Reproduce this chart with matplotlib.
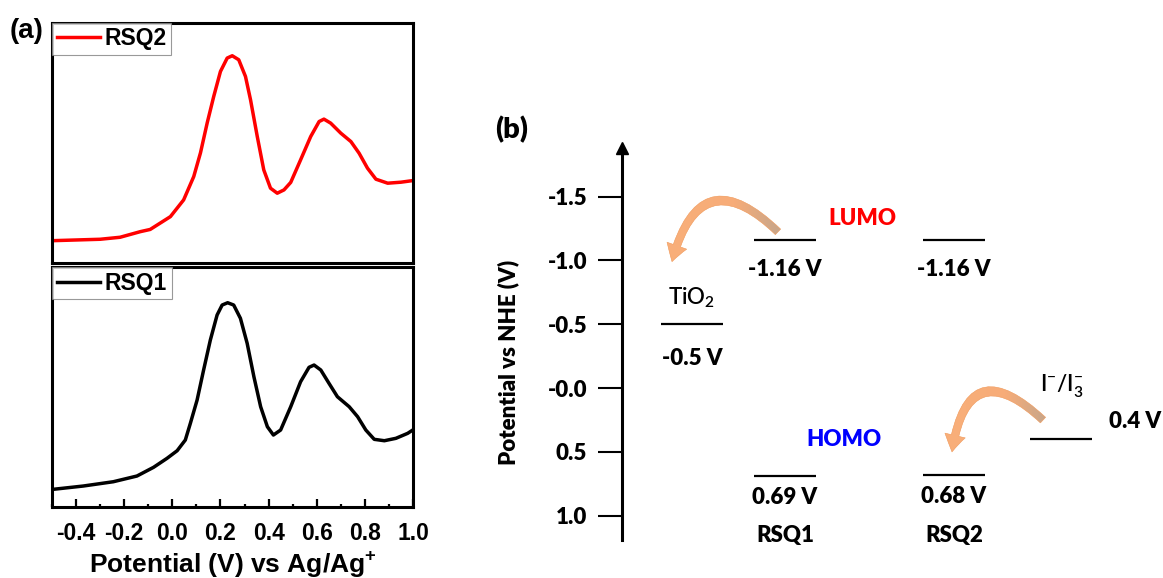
import matplotlib.pyplot as plt
import numpy as np
from matplotlib.colors import LinearSegmentedColormap
from matplotlib.patches import FancyArrowPatch
from matplotlib.ticker import MultipleLocator

plt.rcParams['axes.unicode_minus'] = False

# (a) CV traces: potential (V vs Ag/Ag+) and current (a.u.)
rsq2_v = [-0.496, -0.300, -0.217, -0.133, -0.092, -0.008, 0.047, 0.089, 0.117, 0.145,
          0.172, 0.200, 0.228, 0.249, 0.276, 0.304, 0.325, 0.353, 0.380, 0.408,
          0.436, 0.464, 0.492, 0.533, 0.575, 0.610, 0.630, 0.658, 0.700, 0.742,
          0.776, 0.811, 0.846, 0.895, 0.950, 0.999]
rsq2_i = [22.3, 23.7, 25.7, 31.3, 33.5, 46.3, 63.0, 86.3, 110.0, 140.0,
          166.3, 191.3, 204.7, 207.0, 203.0, 186.3, 163.0, 126.3, 93.0, 74.7,
          69.7, 73.0, 80.5, 103.0, 126.3, 141.3, 143.7, 139.7, 129.7, 121.3,
          109.7, 94.7, 83.7, 79.7, 80.7, 82.3]

rsq1_v = [-0.495, -0.370, -0.245, -0.147, -0.078, -0.022, 0.020, 0.054, 0.075, 0.103,
          0.130, 0.158, 0.186, 0.207, 0.230, 0.255, 0.283, 0.311, 0.339, 0.367,
          0.395, 0.420, 0.450, 0.492, 0.533, 0.568, 0.589, 0.617, 0.651, 0.686,
          0.735, 0.770, 0.804, 0.839, 0.881, 0.929, 0.978, 0.999]
rsq1_i = [17.7, 21.0, 25.3, 31.0, 39.7, 48.7, 56.3, 67.0, 83.7, 107.0,
          137.0, 167.0, 192.0, 202.0, 204.3, 202.0, 188.7, 163.7, 130.3, 100.3,
          80.3, 72.0, 77.0, 100.3, 125.3, 139.7, 142.0, 137.0, 123.7, 110.3,
          100.3, 90.3, 77.0, 67.7, 66.3, 68.7, 73.7, 77.0]

# (b) energy levels, V vs NHE
dyes = ['RSQ1', 'RSQ2']
lumo_levels = [-1.16, -1.16]
homo_levels = [0.69, 0.68]
tio2_level = -0.5
redox_level = 0.4
b_ticks = [-1.5, -1.0, -0.5, 0.0, 0.5, 1.0]
b_tick_labels = ['-1.5', '-1.0', '-0.5', '-0.0', '0.5', '1.0']

fig = plt.figure(figsize=(11.63, 5.78), dpi=100)

# ---------- panel (a) ----------
arial = 'Liberation Sans'
ax_top = fig.add_axes([0.0447, 0.545, 0.3104, 0.4157])
ax_bot = fig.add_axes([0.0447, 0.1228, 0.3104, 0.4152])

for ax, v, i, col, name in [(ax_top, rsq2_v, rsq2_i, 'red', 'RSQ2'),
                            (ax_bot, rsq1_v, rsq1_i, 'black', 'RSQ1')]:
    ax.plot(v, i, color=col, lw=2.5, solid_joinstyle='round', label=name)
    ax.set_xlim(-0.5, 1.0)
    ax.set_ylim(0, 240)
    for sp in ax.spines.values():
        sp.set_linewidth(2.2)
    leg = ax.legend(loc='upper left', borderaxespad=0, fancybox=False,
                    handlelength=1.9, handletextpad=0.2, borderpad=0.2,
                    prop={'family': arial, 'weight': 'bold', 'size': 16.5})
    leg.get_frame().set_edgecolor('#808080')
    leg.get_frame().set_linewidth(0.8)

ax_top.tick_params(bottom=False, labelbottom=False, left=False, labelleft=False)
ax_bot.tick_params(left=False, labelleft=False)
ax_bot.xaxis.set_major_locator(MultipleLocator(0.2))
ax_bot.xaxis.set_minor_locator(MultipleLocator(0.1))
ax_bot.tick_params(axis='x', which='major', direction='in', length=6, width=1.6, pad=11)
ax_bot.tick_params(axis='x', which='minor', direction='in', length=2.5, width=1.6)
ax_bot.set_xticks([-0.4, -0.2, 0.0, 0.2, 0.4, 0.6, 0.8, 1.0])
for lab in ax_bot.get_xticklabels():
    lab.set_fontfamily(arial)
    lab.set_fontweight('bold')
    lab.set_fontsize(16.5)
ax_bot.set_xlabel('Potential (V) vs Ag/Ag$^{\\mathregular{+}}$', family=arial,
                  weight='bold', size=19, labelpad=3)

fig.text(27 / 1163, 1 - 31 / 578, '(a)', family=arial, weight='bold', size=20,
         ha='center', va='center')

# ---------- panel (b) ----------
lato = 'Lato'
heavy = 800
axb = fig.add_axes([622 / 1163, 38 / 578, 541 / 1163, 392 / 578])
axb.set_xlim(0, 541)
axb.set_ylim(1.19, -1.88)
for side in ['top', 'right', 'bottom']:
    axb.spines[side].set_visible(False)
axb.spines['left'].set_linewidth(2.2)
axb.plot(0, 1, marker='^', ms=8, color='black', transform=axb.transAxes,
         clip_on=False)
axb.set_xticks([])
axb.set_yticks(b_ticks, b_tick_labels)
axb.tick_params(axis='y', direction='out', length=17, width=1.5, pad=8)
for lab in axb.get_yticklabels():
    lab.set_fontfamily(lato)
    lab.set_fontweight(heavy)
    lab.set_fontsize(16)
axb.set_ylabel('Potential vs NHE (V)', family=lato, weight=heavy, size=16)
axb.yaxis.set_label_coords(-0.19, 0.452)

fig.text(512 / 1163, 1 - 130 / 578, '(b)', family=lato, weight=heavy, size=21,
         ha='center', va='center')

half = 31
level_kw = dict(color='black', lw=1.6)
txt_kw = dict(family=lato, weight=heavy, size=16, ha='center', va='center')

# TiO2 conduction band
axb.hlines(tio2_level, 70 - half, 70 + half, **level_kw)
axb.text(70, tio2_level - 0.205, 'TiO$_{\\mathregular{2}}$', family=lato,
         weight=600, size=16, ha='center', va='center')
axb.text(70, tio2_level + 0.265, f'{tio2_level} V', **txt_kw)

# dye LUMO / HOMO levels
for xc, name, lu, ho in zip([163, 332], dyes, lumo_levels, homo_levels):
    axb.hlines(lu, xc - half, xc + half, **level_kw)
    axb.text(xc, lu + 0.235, f'{lu:.2f} V', **txt_kw)
    axb.hlines(ho, xc - half, xc + half, **level_kw)
    axb.text(xc, ho + 0.17, f'{ho:.2f} V', **txt_kw)
    axb.text(xc, 1.152, name, **txt_kw)

axb.text(240, -1.324, 'LUMO', color='#ff0000', **txt_kw)
axb.text(222, 0.40, 'HOMO', color='#0000ff', **txt_kw)

# I-/I3- redox couple
axb.hlines(redox_level, 439 - half, 439 + half, **level_kw)
axb.text(513, redox_level - 0.141, f'{redox_level} V', **txt_kw)
axb.text(440, -0.02, 'I$^{\\mathregular{-}}$/I$_{\\mathregular{3}}^{\\mathregular{-}}$',
         family=lato, weight=600, size=16, ha='center', va='center')

# curved electron-transfer arrows, orange fading to tan at the tail
arrow_cmap = LinearSegmentedColormap.from_list(
    'arrow', [(0, '#f9b07a'), (0.6, '#f7ac78'), (1, '#b9a490')])
arrow_style = 'simple,head_length=12,head_width=15,tail_width=5.5'


def curved_arrow(ax, start, end, rad):
    conn = f'arc3,rad={rad}'
    base = FancyArrowPatch(start, end, connectionstyle=conn, arrowstyle=arrow_style,
                           mutation_scale=1, shrinkA=0, shrinkB=0,
                           facecolor='#f8b07a', edgecolor='none', zorder=2.9)
    ax.add_patch(base)
    grad = np.linspace(0, 1, 256).reshape(1, -1)
    x0, x1 = end[0] - 25, start[0] + 15
    y_top = min(start[1], end[1]) - 0.6
    y_bot = max(start[1], end[1]) + 0.2
    im = ax.imshow(grad, cmap=arrow_cmap, extent=(x0, x1, y_bot, y_top),
                   aspect='auto', zorder=3, interpolation='bilinear')
    im.set_clip_path(base)
    outline = FancyArrowPatch(start, end, connectionstyle=conn, arrowstyle=arrow_style,
                              mutation_scale=1, shrinkA=0, shrinkB=0,
                              facecolor='none', edgecolor='#f1a46c', lw=0.4, zorder=4)
    ax.add_patch(outline)


curved_arrow(axb, (156, -1.223), (50, -0.99), 0.85)
curved_arrow(axb, (421, 0.251), (330, 0.50), 0.95)

axb.set_xlim(0, 541)
axb.set_ylim(1.19, -1.88)

fig.savefig('out.png', dpi=100)
